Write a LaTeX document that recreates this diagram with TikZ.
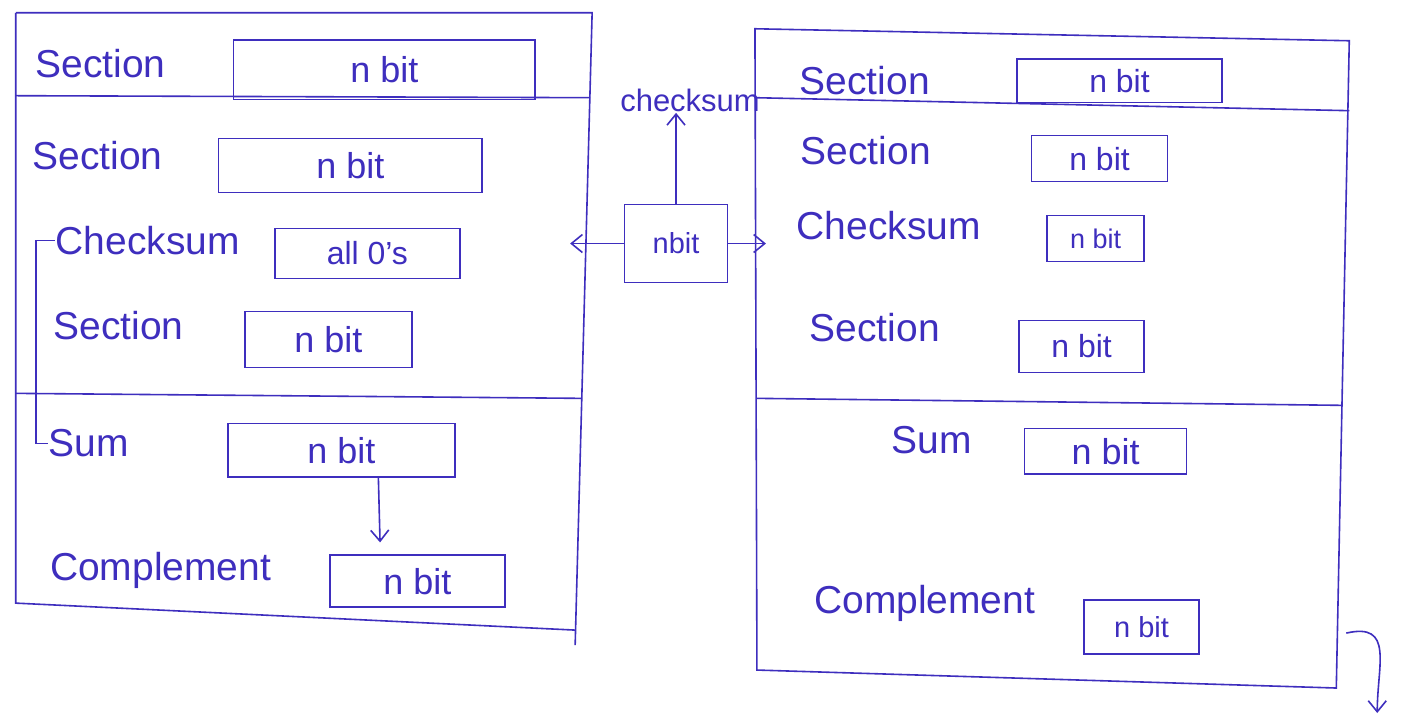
\documentclass[tikz,border=0pt]{standalone}
\usepackage{fontspec}
\setmainfont{Liberation Sans}
\usetikzlibrary{arrows.meta}
\definecolor{ink}{RGB}{62,46,190}
\begin{document}
\begin{tikzpicture}[x=1pt,y=-1pt,
  line width=1.6pt,
  every path/.style={draw=ink},
  lbl/.style={text=ink, inner sep=0pt, font=\fontsize{39}{44}\selectfont},
  small/.style={text=ink, inner sep=0pt, font=\fontsize{31}{36}\selectfont},
  field/.style={draw=ink, line width=1.6pt, text=ink, inner sep=0pt,
    font=\fontsize{36}{40}\selectfont},
  arr/.style={-{Straight Barb[length=11pt,width=18pt,line width=1.6pt]}}]
\useasboundingbox (0,0) rectangle (1411,721);
\fill[white] (0,0) rectangle (1411,721);

% sender frame
\draw (15,12) -- (592,12) -- (575,645);
\draw (15,12) -- (15,603) -- (575,630);
\draw (15,95) -- (590,97);
\draw (15,393) -- (581,398);

% receiver frame
\draw (755,28) -- (1350,40) -- (1337,688) -- (757,670) -- cycle;
\draw (755,97) -- (1350,110);
\draw (757,398) -- (1343,405);

% sender rows
\node[lbl] (ls1) at (100,63) {Section};
\node[field, minimum width=302pt, minimum height=60pt] (lf1) at (384,69) {n bit};
\node[lbl] (ls2) at (97,155) {Section};
\node[field, minimum width=264pt, minimum height=54pt] (lf2) at (350,165) {n bit};
\node[lbl] (lck) at (147,240) {Checksum};
\node[field, minimum width=185pt, minimum height=50pt, font=\fontsize{32}{36}\selectfont] (lf3) at (367,253) {all 0's};
\node[lbl] (ls3) at (118,325) {Section};
\node[field, minimum width=167pt, minimum height=56pt] (lf4) at (328,339) {n bit};
\node[lbl] (lsum) at (88,443) {Sum};
\node[field, minimum width=227pt, minimum height=54pt] (lf5) at (341,450) {n bit};
\node[lbl] (lcp) at (160,570) {Complement};
\node[field, minimum width=175pt, minimum height=52pt] (lf6) at (417,581) {n bit};

% receiver rows
\node[lbl] (rs1) at (865,80) {Section};
\node[field, minimum width=205pt, minimum height=44pt, font=\fontsize{32}{36}\selectfont] (rf1) at (1120,80) {n bit};
\node[lbl] (rs2) at (866,150) {Section};
\node[field, minimum width=136pt, minimum height=46pt, font=\fontsize{32}{36}\selectfont] (rf2) at (1100,158) {n bit};
\node[lbl] (rck) at (889,225) {Checksum};
\node[field, minimum width=97pt, minimum height=46pt, font=\fontsize{27}{30}\selectfont] (rf3) at (1096,238) {n bit};
\node[lbl] (rs3) at (875,327) {Section};
\node[field, minimum width=125pt, minimum height=52pt, font=\fontsize{32}{36}\selectfont] (rf4) at (1082,346) {n bit};
\node[lbl] (rsum) at (932,440) {Sum};
\node[field, minimum width=162pt, minimum height=46pt] (rf5) at (1106,451) {n bit};
\node[lbl] (rcp) at (925,603) {Complement};
\node[field, minimum width=115pt, minimum height=54pt, font=\fontsize{29}{32}\selectfont] (rf6) at (1142,627) {n bit};

% transmitted checksum in between
\node[field, minimum width=103pt, minimum height=78pt, font=\fontsize{29}{32}\selectfont] (mid) at (676,243) {nbit};
\node[small] (mck) at (690,100) {checksum};
\coordinate (la) at (570,240);
\coordinate (ra) at (766,234);

\draw[arr] (mid.north) -- (mid.north |- mck.south);
\draw[arr] (mid.west) -- (mid.west -| la);
\draw[arr] (mid.east) -- (mid.east -| ra);

% sum is complemented
\draw[arr, shorten >=12pt] ([xshift=37pt]lf5.south) -- ([xshift=-37pt]lf6.north);

% checksum feeds the sum
\coordinate (lx) at (35,0);
\draw (lck.west) -- (lck.west -| lx) |- (lsum.west);

% hook at the receiver's corner
\draw[arr] (1347,633) .. controls (1395,622) and (1378,665) .. (1378,713);
\end{tikzpicture}
\end{document}
